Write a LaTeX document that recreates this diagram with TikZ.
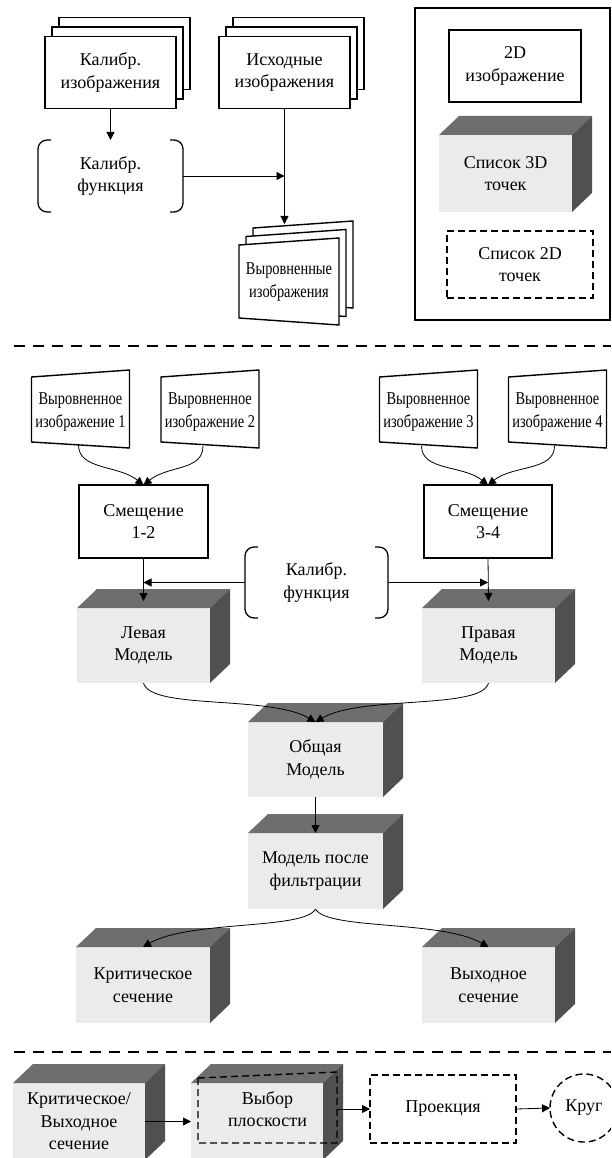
\documentclass[tikz,border=0pt]{standalone}
\usepackage{fontspec}
\setmainfont{Liberation Serif}
\usetikzlibrary{calc,arrows.meta,backgrounds}
\definecolor{cfront}{HTML}{EBEBEB}
\definecolor{ctop}{HTML}{6E6E6E}
\definecolor{cside}{HTML}{505050}
\newcommand\cnd[1]{\scalebox{0.8}[1]{#1}}
\newcommand\cubefaces[1]{%
  \fill[ctop] (#1.north west) -- ++(20,19) -- ($(#1.north east)+(20,19)$) -- (#1.north east) -- cycle;
  \fill[cside] (#1.north east) -- ++(20,19) -- ($(#1.south east)+(20,19)$) -- (#1.south east) -- cycle;}
\newcommand\stackbg[1]{%
  \begin{scope}[on background layer]
  \draw[bline,fill=white] ($(#1.south west)+(14,19)$) rectangle ($(#1.north east)+(14,19)$);
  \draw[bline,fill=white] ($(#1.south west)+(7,9.5)$) rectangle ($(#1.north east)+(7,9.5)$);
  \end{scope}}
\newcommand\trapz[6]{\draw[bline,fill=white] ($(#1)+(-#2,#3)$) -- ($(#1)+(#2,#4)$) -- ($(#1)+(#2,-#5)$) -- ($(#1)+(-#2,-#6)$) -- cycle;}
\newcommand\brackets[1]{%
  \draw[brk] ($(#1.north west)+(13,0)$) -- (#1.north west) -- (#1.south west) -- ($(#1.south west)+(13,0)$);
  \draw[brk] ($(#1.north east)+(-13,0)$) -- (#1.north east) -- (#1.south east) -- ($(#1.south east)+(-13,0)$);}
\begin{document}
\begin{tikzpicture}[x=1pt,y=1pt,
  every node/.style={font=\fontsize{18}{22.5}\selectfont, align=center, inner sep=0pt, outer sep=0pt},
  bline/.style={line width=1.4pt},
  box/.style={draw, bline, fill=white, minimum width=131pt, minimum height=72pt},
  cube/.style={fill=cfront, minimum width=133pt, minimum height=76pt},
  dsh/.style={line width=1.4pt, dash pattern=on 7pt off 4pt},
  dbox/.style={draw, dsh, minimum width=146pt, minimum height=67pt},
  sepline/.style={line width=1.8pt, dash pattern=on 11pt off 8pt},
  arr/.style={line width=0.8pt, -{Triangle[length=8pt,width=8pt]}},
  brk/.style={line width=1.3pt, rounded corners=9pt}]
\useasboundingbox (0,0) rectangle (611,-1158);
\clip (0,0) rectangle (611,-1158);

% ---------- top section ----------
\node[box] (kalimg) at (110.5,-72.5) {Калибр.\\изображения};
\stackbg{kalimg}
\node[box] (ish) at (284.5,-72.5) {Исходные\\изображения};
\stackbg{ish}
\node[minimum width=145pt, minimum height=72pt] (kal1) at (110.5,-176) {Калибр.\\функция};
\brackets{kal1}

\coordinate (vyrc) at (289,-282);
\coordinate (vyr3) at ($(vyrc)+(14,17)$);
\coordinate (vyr2) at ($(vyrc)+(7,8.5)$);
\trapz{vyr3}{50}{37}{44}{43}{36}
\trapz{vyr2}{50}{37}{44}{43}{36}
\trapz{vyrc}{50}{37}{44}{43}{36}
\node (vyr) at (vyrc) {\cnd{Выровненные}\\\cnd{изображения}};
\coordinate (vyrtop) at (284.5,-224);

\draw[arr] (kalimg.south) -- (kal1.north);
\draw[arr] (kal1.east) -- (kal1.east -| ish.south);
\draw[arr] (ish.south) -- (vyrtop);

% legend
\node[draw, bline, minimum width=195pt, minimum height=312pt] (legend) at (512.5,-164) {};
\node[box, minimum width=132pt] (l2d) at (515,-66) {2D\\изображение};
\node[cube, minimum height=77pt] (l3d) at (505.5,-173.5) {Список 3D\\точек};
\cubefaces{l3d}
\node[dbox] (l2dp) at (520,-264.5) {Список 2D\\точек};

\draw[sepline] (14,-346) -- (611,-346);

% ---------- middle section ----------
\node (img1) at (80.5,-412) {\cnd{Выровненное}\\\cnd{изображение 1}};
\node (img2) at (210,-412) {\cnd{Выровненное}\\\cnd{изображение 2}};
\node (img3) at (428.5,-412) {\cnd{Выровненное}\\\cnd{изображение 3}};
\node (img4) at (557.5,-412) {\cnd{Выровненное}\\\cnd{изображение 4}};
\foreach \n in {img1,img2,img3,img4}{
  \draw[bline] ($(\n)+(-49,35)$) -- ($(\n)+(49,42)$) -- ($(\n)+(49,-36)$) -- ($(\n)+(-49,-30)$) -- cycle;
}
\coordinate (img1b) at ($(img1)+(-2,-33)$);
\coordinate (img2b) at ($(img2)+(-7,-34)$);
\coordinate (img3b) at ($(img3)+(-7,-34)$);
\coordinate (img4b) at ($(img4)+(-3,-34)$);

\node[box, minimum width=129pt, minimum height=73pt] (sm12) at (143.5,-521.5) {Смещение\\1-2};
\node[box, minimum width=128pt, minimum height=73pt] (sm34) at (488,-521.5) {Смещение\\3-4};

\draw[arr] (img1b) .. controls ($(img1b)+(0,-25)$) and ($(sm12.north)+(-25,20)$) .. (sm12.north);
\draw[arr] (img2b) .. controls ($(img2b)+(0,-25)$) and ($(sm12.north)+(25,20)$) .. (sm12.north);
\draw[arr] (img3b) .. controls ($(img3b)+(0,-25)$) and ($(sm34.north)+(-25,20)$) .. (sm34.north);
\draw[arr] (img4b) .. controls ($(img4b)+(0,-25)$) and ($(sm34.north)+(25,20)$) .. (sm34.north);

\node[minimum width=143pt, minimum height=71pt] (kal2) at (316.5,-582.5) {Калибр.\\функция};
\brackets{kal2}

\node[cube, minimum height=75pt] (lev) at (143.5,-645.5) {Левая\\Модель};
\cubefaces{lev}
\node[cube, minimum height=75pt] (prav) at (488.5,-645.5) {Правая\\Модель};
\cubefaces{prav}
\node[cube, minimum width=135pt, minimum height=75pt] (obsh) at (315.5,-759.5) {Общая\\Модель};
\cubefaces{obsh}
\node[cube, minimum width=135pt, minimum height=76pt] (mpf) at (315.5,-871) {Модель после\\фильтрации};
\cubefaces{mpf}
\node[cube, minimum width=134pt] (krit) at (143,-985) {Критическое\\сечение};
\cubefaces{krit}
\node[cube] (vyh) at (488.5,-985) {Выходное\\сечение};
\cubefaces{vyh}

\draw[arr] (kal2.west) -- (kal2.west -| sm12.south);
\draw[arr] (kal2.east) -- (kal2.east -| sm34.south);
\draw[arr] (sm12.south) -- ([yshift=7pt]lev.north);
\draw[arr] (sm34.south) -- ([yshift=7pt]prav.north);
\draw[arr] (lev.south) .. controls ($(lev.south)+(7,-27)$) and ($(obsh.north)+(-46,27)$) .. (obsh.north);
\draw[arr] (prav.south) .. controls ($(prav.south)+(-7,-27)$) and ($(obsh.north)+(46,27)$) .. (obsh.north);
\draw[arr] (obsh.south) -- (mpf.north);
\draw[arr] (mpf.south) .. controls ($(mpf.south)+(-11,-21)$) and ($(krit.north)+(47,27)$) .. (krit.north);
\draw[arr] (mpf.south) .. controls ($(mpf.south)+(11,-21)$) and ($(vyh.north)+(-47,27)$) .. (vyh.north);

\draw[sepline] (14,-1052) -- (611,-1052);

% ---------- bottom section ----------
\node[cube, minimum width=132pt, minimum height=77pt] (krvy) at (79,-1121.5) {Критическое/\\Выходное\\сечение};
\cubefaces{krvy}
\node[cube, minimum width=132pt, minimum height=77pt] (vybor) at (257,-1121.5) {};
\cubefaces{vybor}
\node[minimum width=139pt, minimum height=68pt] (vybd) at (267.5,-1109) {Выбор\\плоскости};
\draw[dsh] ([yshift=-3pt]vybd.north west) -- ([yshift=3pt]vybd.north east) -- (vybd.south east) -- (vybd.south west) -- cycle;
\node[dbox, minimum height=68pt] (proj) at (443,-1109) {Проекция};
\node[draw, dsh, circle, minimum size=68pt] (krug) at (584,-1108) {Круг};

\draw[arr] (krvy.east) -- (vybor.west);
\draw[arr] (vybd.east) -- (proj.west);
\draw[arr] (proj.east) -- (krug.west);
\end{tikzpicture}
\end{document}
